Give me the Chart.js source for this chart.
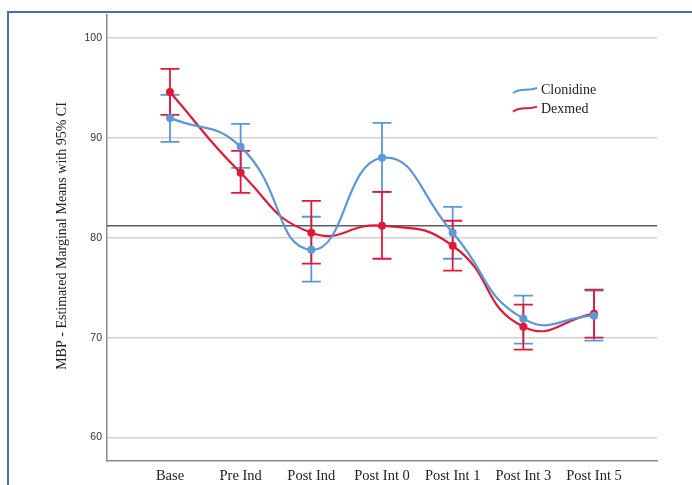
<!DOCTYPE html>
<html>
<head>
<meta charset="utf-8">
<script src="https://cdn.jsdelivr.net/npm/chart.js@4.4.1/dist/chart.umd.min.js"></script>
<style>
  html, body { margin: 0; padding: 0; background: #fff; }
  #wrap { position: relative; width: 692px; height: 485px; overflow: hidden; }
  #frame { position: absolute; left: 7px; top: 11px; width: 720px; height: 520px;
           border-left: 2px solid #4a6cc0; border-top: 2px solid #4a6cc0; }
  canvas { position: absolute; left: 0; top: 0; }
</style>
</head>
<body>
<div id="wrap">
  <div id="frame"></div>
  <canvas id="chart" width="692" height="485"></canvas>
</div>
<script>
// Time points and estimated marginal means (MBP) with 95% CI bounds
const categories = ['Base', 'Pre Ind', 'Post Ind', 'Post Int 0', 'Post Int 1', 'Post Int 3', 'Post Int 5'];

const clonidineMean  = [92.0, 89.1, 78.8, 88.0, 80.5, 71.9, 72.2];
const clonidineLower = [89.6, 87.0, 75.6, 84.6, 77.9, 69.4, 69.7];
const clonidineUpper = [94.3, 91.4, 82.1, 91.5, 83.1, 74.2, 74.7];

const dexmedMean  = [94.6, 86.5, 80.5, 81.2, 79.2, 71.1, 72.4];
const dexmedLower = [92.3, 84.5, 77.4, 77.9, 76.7, 68.8, 70.0];
const dexmedUpper = [96.9, 88.7, 83.7, 84.6, 81.7, 73.3, 74.8];

const yTickValues = [60, 70, 80, 90, 100];
const referenceValue = 81.2;
const yTitle = 'MBP - Estimated Marginal Means with 95% CI';

const BLUE = 'rgb(92,152,214)';
const RED = 'rgb(222,26,58)';

const toPoints = arr => arr.map((v, i) => ({ x: i, y: v }));

const series = [
  { label: 'Clonidine', mean: clonidineMean, lower: clonidineLower, upper: clonidineUpper, color: BLUE },
  { label: 'Dexmed', mean: dexmedMean, lower: dexmedLower, upper: dexmedUpper, color: RED }
];

// Horizontal reference line, drawn beneath the series
const referenceLinePlugin = {
  id: 'referenceLine',
  beforeDatasetsDraw(chart) {
    const { ctx, chartArea, scales } = chart;
    const y = scales.y.getPixelForValue(referenceValue);
    ctx.save();
    ctx.strokeStyle = '#5c5c5c';
    ctx.lineWidth = 1.6;
    ctx.beginPath();
    ctx.moveTo(chartArea.left, y);
    ctx.lineTo(chartArea.right, y);
    ctx.stroke();
    ctx.restore();
  }
};

// 95% CI whiskers with caps
const errorBarPlugin = {
  id: 'errorBars',
  beforeDatasetsDraw(chart) {
    const { ctx, scales } = chart;
    const cap = 9.5;
    ctx.save();
    ctx.lineWidth = 1.8;
    series.forEach(s => {
      ctx.strokeStyle = s.color;
      s.mean.forEach((_, i) => {
        const x = scales.x.getPixelForValue(i);
        const yl = scales.y.getPixelForValue(s.lower[i]);
        const yu = scales.y.getPixelForValue(s.upper[i]);
        ctx.beginPath();
        ctx.moveTo(x, yu); ctx.lineTo(x, yl);
        ctx.moveTo(x - cap, yu); ctx.lineTo(x + cap, yu);
        ctx.moveTo(x - cap, yl); ctx.lineTo(x + cap, yl);
        ctx.stroke();
      });
    });
    ctx.restore();
  }
};

// Rotated axis title and an in-plot legend with wavy line samples
const annotationsPlugin = {
  id: 'annotations',
  afterDraw(chart) {
    const { ctx } = chart;
    ctx.save();
    ctx.fillStyle = '#222';
    ctx.font = '14px "Liberation Serif", "Times New Roman", serif';
    ctx.textAlign = 'center';
    ctx.textBaseline = 'middle';
    ctx.translate(62, 236);
    ctx.rotate(-Math.PI / 2);
    ctx.fillText(yTitle, 0, 0);
    ctx.restore();

    ctx.save();
    chart.data.datasets.forEach((ds, i) => {
      const y = 90.5 + i * 18.6;
      const x0 = 513, x1 = 537;
      ctx.strokeStyle = ds.borderColor;
      ctx.lineWidth = 2;
      ctx.beginPath();
      ctx.moveTo(x0, y + 2.5);
      ctx.bezierCurveTo(x0 + 9, y - 3.5, x1 - 10, y + 1.5, x1, y - 2.5);
      ctx.stroke();
      ctx.fillStyle = '#222';
      ctx.font = '14px "Liberation Serif", "Times New Roman", serif';
      ctx.textAlign = 'left';
      ctx.textBaseline = 'middle';
      ctx.fillText(ds.label, x1 + 4, y);
    });
    ctx.restore();
  }
};

new Chart(document.getElementById('chart'), {
  type: 'line',
  data: {
    datasets: series.map(s => ({
      label: s.label,
      data: toPoints(s.mean),
      borderColor: s.color,
      backgroundColor: s.color,
      borderWidth: 2.2,
      tension: 0.5,
      pointRadius: 4,
      pointBorderWidth: 0,
      pointBackgroundColor: s.color,
      fill: false
    }))
  },
  options: {
    responsive: false,
    animation: false,
    events: [],
    layout: { padding: { left: 0, top: 15, right: 35, bottom: 0 } },
    plugins: { legend: { display: false }, tooltip: { enabled: false } },
    scales: {
      x: {
        type: 'linear',
        min: -0.891,
        max: 6.891,
        afterBuildTicks: scale => { scale.ticks = categories.map((_, i) => ({ value: i })); },
        afterFit: scale => { scale.height = 24; },
        grid: { display: false, drawTicks: false },
        border: { display: true, color: '#8a8a8a', width: 1.5 },
        ticks: {
          padding: 6,
          autoSkip: false,
          maxRotation: 0,
          color: '#222',
          font: { family: '"Liberation Serif", "Times New Roman", serif', size: 14.5 },
          callback: v => categories[v] ?? ''
        }
      },
      y: {
        min: 57.65,
        max: 102.3,
        afterBuildTicks: scale => { scale.ticks = yTickValues.map(v => ({ value: v })); },
        afterFit: scale => { scale.width = 107; },
        grid: { color: '#d2d2d2', lineWidth: 1.5, drawTicks: false },
        border: { display: true, color: '#8a8a8a', width: 1.5 },
        ticks: {
          padding: 5,
          color: '#333',
          font: { family: '"Liberation Sans", Arial, sans-serif', size: 10.5 }
        }
      }
    }
  },
  plugins: [referenceLinePlugin, errorBarPlugin, annotationsPlugin]
});
</script>
</body>
</html>
